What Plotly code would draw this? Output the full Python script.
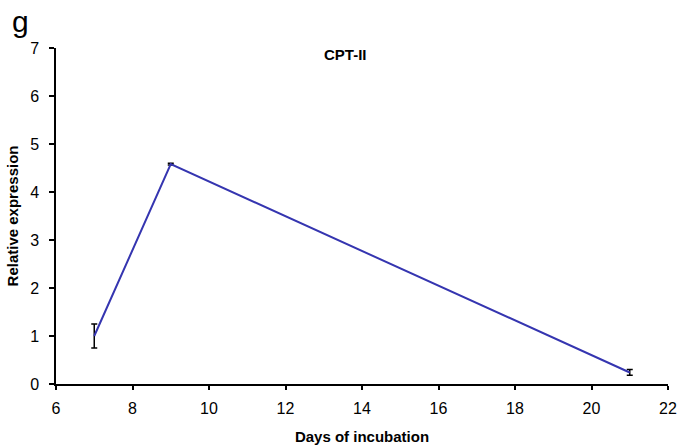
import plotly.graph_objects as go

days = [7, 9, 21]
expression = [1.0, 4.58, 0.24]
err = [0.25, 0.02, 0.06]

x_ticks = [6, 8, 10, 12, 14, 16, 18, 20, 22]
y_ticks = [0, 1, 2, 3, 4, 5, 6, 7]

fig = go.Figure()
fig.add_trace(go.Scatter(
    x=days, y=expression, mode="lines",
    line=dict(color="#3535b0", width=2),
    error_y=dict(type="data", array=err, visible=True, color="black", thickness=1.5, width=3),
    showlegend=False,
))

font = "Liberation Sans, Arial, sans-serif"
L, R, T, B = 56, 12, 48, 64
fig.update_layout(
    width=680, height=448,
    margin=dict(l=L, r=R, t=T, b=B),
    paper_bgcolor="white", plot_bgcolor="white",
    font=dict(family=font, color="black"),
    xaxis=dict(range=[6, 22], tickvals=x_ticks, showgrid=False, zeroline=False,
               showline=True, linecolor="black", linewidth=1.5, automargin=False,
               ticks="outside", ticklen=4, tickwidth=1.5, tickcolor="black",
               tickfont=dict(size=16), fixedrange=True, ticklabelstandoff=5,
               title=dict(text="<b>Days of incubation</b>", font=dict(size=15), standoff=16)),
    yaxis=dict(range=[0, 7], tickvals=y_ticks, showgrid=False, zeroline=False,
               showline=True, linecolor="black", linewidth=1.5, automargin=False,
               ticks="outside", ticklen=5, tickwidth=1.5, tickcolor="black",
               tickfont=dict(size=16), fixedrange=True, ticklabelstandoff=7,
               title=dict(text="<b>Relative expression</b>", font=dict(size=15), standoff=8)),
)
pw, ph = 680 - L - R, 448 - T - B
def to_paper(px, py):
    return (px - L) / pw, (448 - B - py) / ph
ax, ay = to_paper(345, 54)
gx, gy = to_paper(20, 21)
fig.add_annotation(text="<b>CPT-II</b>", x=ax, y=ay, xref="paper", yref="paper",
                   showarrow=False, xanchor="center", yanchor="middle", font=dict(size=15))
fig.add_annotation(text="g", x=gx, y=gy, xref="paper", yref="paper",
                   showarrow=False, xanchor="center", yanchor="middle", font=dict(size=30))
fig.write_html("out.html")
